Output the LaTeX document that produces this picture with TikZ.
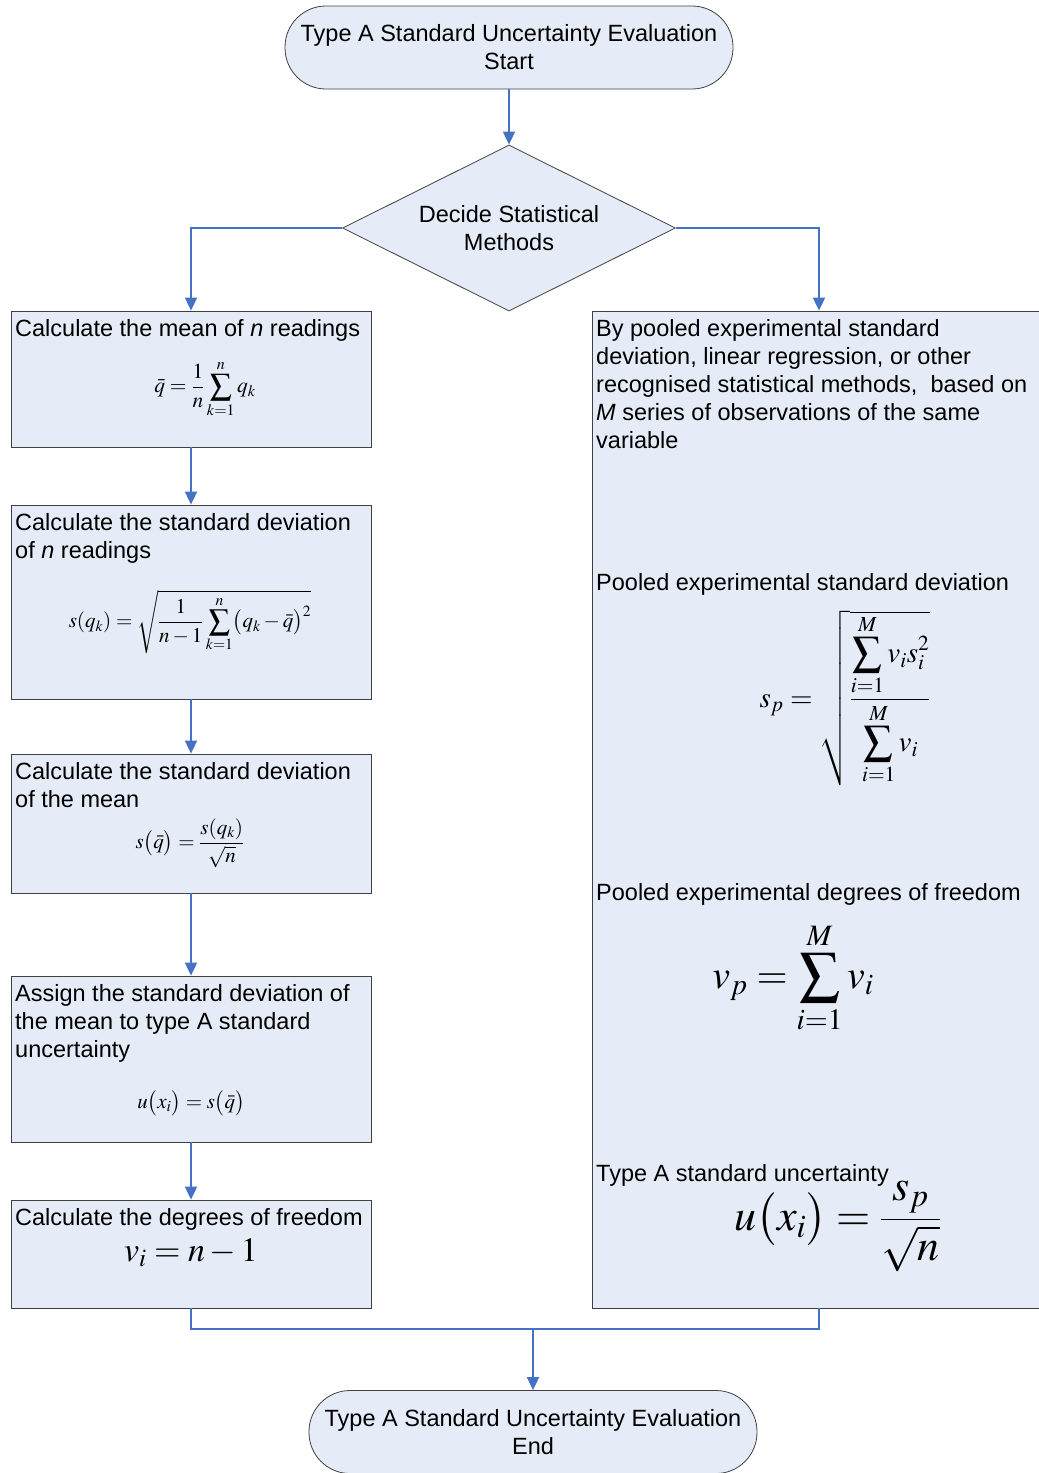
\documentclass[tikz,border=0pt]{standalone}
\usepackage{amsmath}
\usepackage{mathptmx}
\usepackage[no-math]{fontspec}
\setmainfont{Liberation Sans}
\usetikzlibrary{shapes.geometric,arrows.meta}
\definecolor{boxfill}{RGB}{230,236,247}
\definecolor{boxline}{RGB}{64,64,64}
\definecolor{flow}{RGB}{70,114,196}
\begin{document}
\begin{tikzpicture}[x=1pt,y=-1pt,
  every node/.style={font=\fontsize{23.5}{28}\selectfont},
  terminal/.style={draw=boxline,fill=boxfill,line width=0.8pt,rounded corners=41pt,
    minimum width=448pt,minimum height=83pt,align=center,inner sep=0pt},
  decision/.style={draw=boxline,fill=boxfill,line width=0.8pt,diamond,aspect=2,
    minimum width=333pt,minimum height=166pt,align=center,inner sep=0pt},
  procbox/.style={draw=boxline,fill=boxfill,line width=0.8pt,minimum width=360pt,inner sep=0pt},
  boxtext/.style={anchor=north west,align=left,inner sep=0pt},
  formula/.style={inner sep=0pt},
  flowline/.style={draw=flow,line width=1.8pt},
  flowarrow/.style={flowline,-{Triangle[length=13pt,width=12pt]}}]
\useasboundingbox (0,0) rectangle (1039,1473);
\begin{scope}
\clip (0,0) rectangle (1039,1473);

% start / end terminals and the decision
\node[terminal] (start) at (509,47.5) {Type A Standard Uncertainty Evaluation\\Start};
\node[decision] (decide) at (509,228) {Decide Statistical\\Methods};
\node[terminal] (finish) at (533,1432) {Type A Standard Uncertainty Evaluation\\End};

% left column: evaluation from n readings
\node[procbox,minimum height=136pt] (mean) at (191,379) {};
\node[procbox,minimum height=194pt] (sdev) at (191,602) {};
\node[procbox,minimum height=139pt] (sdmean) at (191,823.5) {};
\node[procbox,minimum height=166pt] (assign) at (191,1059) {};
\node[procbox,minimum height=108pt] (dof) at (191,1254) {};

\node[boxtext] (meantxt) at (15,319) {Calculate the mean of \emph{n} readings};
\node[formula] (meaneq) at (205,389) {\fontsize{21.5}{22}\selectfont$\displaystyle\bar{q}=\frac{1}{n}\sum_{k=1}^{n}q_k$};

\node[boxtext] (sdevtxt) at (15,513) {Calculate the standard deviation\\of \emph{n} readings};
\node[formula] (sdeveq) at (190,622) {\fontsize{21}{22}\selectfont$\displaystyle s(q_k)=\sqrt{\frac{1}{n-1}\sum_{k=1}^{n}\bigl(q_k-\bar{q}\bigr)^{2}}$};

\node[boxtext] (sdmeantxt) at (15,762) {Calculate the standard deviation\\of the mean};
\node[formula] (sdmeaneq) at (190,843) {\fontsize{21}{22}\selectfont$\displaystyle s\bigl(\bar{q}\bigr)=\frac{s(q_k)}{\sqrt{n}}$};

\node[boxtext] (assigntxt) at (15,984) {Assign the standard deviation of\\the mean to type A standard\\uncertainty};
\node[formula] (assigneq) at (191,1103) {\fontsize{21}{22}\selectfont$u\bigl(x_i\bigr)=s\bigl(\bar{q}\bigr)$};

\node[boxtext] (doftxt) at (15,1208) {Calculate the degrees of freedom};
\node[formula] (dofeq) at (191,1253) {\fontsize{34}{36}\selectfont$v_i=n-1$};

% right column: pooled methods
\node[procbox,minimum width=454pt,minimum height=997pt] (pooled) at (819,809.5) {};
\node[boxtext] (pooledtxt) at (596,319) {By pooled experimental standard\\deviation, linear regression, or other\\recognised statistical methods,\ \ based on\\\emph{M} series of observations of the same\\variable};
\node[boxtext] (sptxt) at (596,573) {Pooled experimental standard deviation};
\node[formula] (speq) at (845,698) {\fontsize{29}{30}\selectfont$s_p=\sqrt{\dfrac{\displaystyle\sum_{i=1}^{M}v_i s_i^2}{\displaystyle\sum_{i=1}^{M}v_i}}$};
\node[boxtext] (vptxt) at (596,883) {Pooled experimental degrees of freedom};
\node[formula] (vpeq) at (793,978) {\fontsize{40}{42}\selectfont$\displaystyle v_p=\sum_{i=1}^{M}v_i$};
\node[boxtext] (uatxt) at (596,1164) {Type A standard uncertainty};
\node[formula] (uaeq) at (838,1226) {\fontsize{44}{46}\selectfont$u\bigl(x_i\bigr)=\dfrac{s_p}{\sqrt{n}}$};

% connectors
\draw[flowarrow] (start) -- (decide);
\draw[flowarrow] (decide.west) -| (mean.north);
\draw[flowarrow] (decide.east) -| (pooled.north);
\draw[flowarrow] (mean) -- (sdev);
\draw[flowarrow] (sdev) -- (sdmean);
\draw[flowarrow] (sdmean) -- (assign);
\draw[flowarrow] (assign) -- (dof);
\coordinate (join) at (533,1329);
\draw[flowline] (dof.south) |- (join) -| (pooled.south);
\draw[flowarrow] (join) -- (finish);
\end{scope}
\end{tikzpicture}
\end{document}
